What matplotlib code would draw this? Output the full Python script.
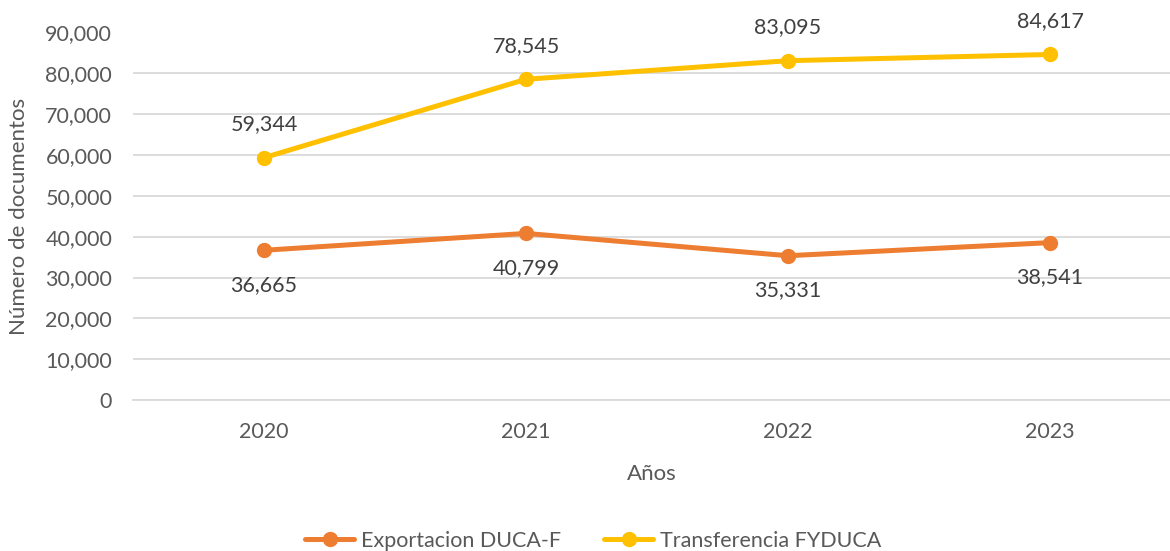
import matplotlib.pyplot as plt
from matplotlib.ticker import FuncFormatter

# Datos
years = ["2020", "2021", "2022", "2023"]
exportacion = [36665, 40799, 35331, 38541]
transferencia = [59344, 78545, 83095, 84617]

orange = "#ED7D31"
yellow = "#FFC000"
tick_color = "#595959"
label_color = "#404040"

plt.rcParams["font.family"] = ["Lato", "DejaVu Sans"]

fig = plt.figure(figsize=(11.7, 5.51), dpi=100)
ax = fig.add_axes([133 / 1170, 1 - 400 / 551, 1 - 133 / 1170, (400 - 32.5) / 551])

x = range(len(years))
ax.plot(x, exportacion, color=orange, lw=3.6, marker="o", ms=10,
        label="Exportacion DUCA-F", solid_capstyle="round")
ax.plot(x, transferencia, color=yellow, lw=3.6, marker="o", ms=10,
        label="Transferencia FYDUCA", solid_capstyle="round")

for i, v in enumerate(exportacion):
    ax.annotate(f"{v:,}", (i, v), xytext=(0, -25), textcoords="offset points",
                ha="center", va="center", fontsize=15.5, color=label_color)
for i, v in enumerate(transferencia):
    ax.annotate(f"{v:,}", (i, v), xytext=(0, 24), textcoords="offset points",
                ha="center", va="center", fontsize=15.5, color=label_color)

ax.set_ylim(0, 90000)
ax.set_xlim(-0.5, 3.5 - 11 / 262)
ax.set_yticks(range(0, 90001, 10000))
ax.yaxis.set_major_formatter(FuncFormatter(lambda v, p: f"{int(v):,}"))
ax.set_xticks(list(x))
ax.set_xticklabels(years)
ax.tick_params(axis="both", length=0, labelsize=15.5, labelcolor=tick_color)
ax.tick_params(axis="y", pad=15)
ax.tick_params(axis="x", pad=16)

ax.grid(axis="y", color="#D9D9D9", lw=1.3)
ax.set_axisbelow(True)
for s in ["top", "right", "left"]:
    ax.spines[s].set_visible(False)
ax.spines["bottom"].set_color("#D9D9D9")
ax.spines["bottom"].set_linewidth(1.3)

ax.set_ylabel("Número de documentos", fontsize=16, color=tick_color, labelpad=12)
ax.set_xlabel("Años", fontsize=16, color=tick_color, labelpad=16)

fig.legend(loc="center", bbox_to_anchor=(593 / 1170, 1 - 541 / 551), ncol=2,
           frameon=False, fontsize=15.5, labelcolor=tick_color,
           handlelength=2.3, columnspacing=2.0, handletextpad=0.3)

fig.savefig("out.png", dpi=100)
